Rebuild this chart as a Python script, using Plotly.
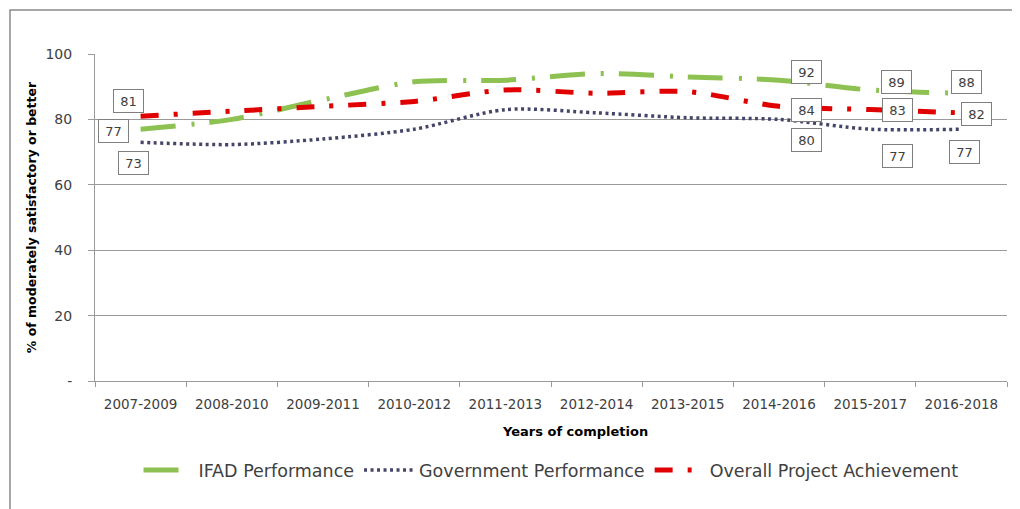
import plotly.graph_objects as go

categories = ["2007-2009", "2008-2010", "2009-2011", "2010-2012", "2011-2013",
              "2012-2014", "2013-2015", "2014-2016", "2015-2017", "2016-2018"]
ifad = [77, 80, 86, 91.5, 92, 94, 93, 92, 89, 88]
government = [73, 72.3, 74, 77, 83, 82, 80.5, 80, 77, 77]
overall = [81, 82.5, 84, 85.5, 89, 88, 88.5, 84, 83, 82]

y_tickvals = [0, 20, 40, 60, 80, 100]
y_ticktext = ["-", "20", "40", "60", "80", "100"]

labelled_idx = [0, 7, 8, 9]

# label box offsets (px) relative to the data point, per series
offsets = {
    "ifad": [(-27, 2), (27, -8), (26, -8), (5, -11)],
    "gov": [(-7, 21), (27, 21), (27, 27), (3, 23)],
    "overall": [(-12, -15), (27, 4), (27, 0), (15, 1)],
}

GREEN = "#8DC152"
RED = "#E00000"
NAVY = "#45456A"
TXT = "#404040"
GRID = "#9A9A9A"

# page body has an 8px offset; plot area targeted at screen x 95..1007, y 54..381
L, T, PW, PH = 87, 46, 912, 327
W, H = 1020, 509

fig = go.Figure()
fig.add_trace(go.Scatter(
    x=categories, y=ifad, name="IFAD Performance", mode="lines",
    line=dict(color=GREEN, width=5, dash="35px,16px,3px,15px", shape="spline", smoothing=0.8),
))
fig.add_trace(go.Scatter(
    x=categories, y=government, name="Government Performance", mode="lines",
    line=dict(color=NAVY, width=3.5, dash="3px,3.5px", shape="spline", smoothing=0.8),
))
fig.add_trace(go.Scatter(
    x=categories, y=overall, name="Overall Project Achievement", mode="lines",
    line=dict(color=RED, width=5, dash="18px,15px,4px,15px", shape="spline", smoothing=0.8),
))


def px_x(sx):
    return (sx - 8 - L) / PW


def px_y(sy):
    return (T + PH - (sy - 8)) / PH


annotations = []
for key, series in (("ifad", ifad), ("gov", government), ("overall", overall)):
    for (dx, dy), i in zip(offsets[key], labelled_idx):
        annotations.append(dict(
            x=categories[i], y=series[i], xref="x", yref="y",
            text=str(round(series[i])), showarrow=False,
            xshift=dx, yshift=-dy,
            font=dict(family="DejaVu Sans", size=13, color=TXT),
            bgcolor="white", bordercolor="#7F7F7F", borderwidth=1, borderpad=1,
            width=27, height=20,
        ))

annotations.append(dict(
    x=px_x(575), y=px_y(431), xref="paper", yref="paper", xanchor="center", yanchor="middle",
    text="<b>Years of completion</b>",
    showarrow=False, font=dict(family="DejaVu Sans", size=13, color="#000000"),
))

fig.update_layout(
    width=W, height=H,
    margin=dict(l=L, r=W - L - PW, t=T, b=H - T - PH),
    paper_bgcolor="white", plot_bgcolor="white",
    showlegend=True,
    legend=dict(orientation="h", x=px_x(551), xanchor="center", y=px_y(470), yanchor="middle",
                font=dict(family="DejaVu Sans", size=17.5, color=TXT),
                itemwidth=50, tracegroupgap=0, bgcolor="rgba(0,0,0,0)"),
    xaxis=dict(
        type="category", showgrid=False, showline=True, linecolor=GRID, linewidth=1,
        ticks="outside", tickson="boundaries", ticklen=5, tickcolor=GRID,
        ticklabelstandoff=11,
        tickfont=dict(family="DejaVu Sans", size=13.5, color=TXT),
        range=[-0.5, 9.5],
    ),
    yaxis=dict(
        range=[0, 100], tickvals=y_tickvals, ticktext=y_ticktext,
        showgrid=True, gridcolor=GRID, gridwidth=1, zeroline=False,
        showline=True, linecolor=GRID, linewidth=1,
        ticks="outside", ticklen=6, tickcolor=GRID,
        ticklabelstandoff=13,
        tickfont=dict(family="DejaVu Sans", size=14, color=TXT),
        title=dict(text="<b>% of moderately satisfactory or better</b>",
                   font=dict(family="DejaVu Sans", size=12.5, color="#000000"), standoff=6),
    ),
    annotations=annotations,
    shapes=[dict(type="rect", xref="paper", yref="paper",
                 x0=px_x(10), x1=px_x(1019), y0=px_y(530), y1=px_y(10),
                 line=dict(color="#8A8A8A", width=1.5), fillcolor="rgba(0,0,0,0)", layer="below")],
)

fig.write_html("out.html")
